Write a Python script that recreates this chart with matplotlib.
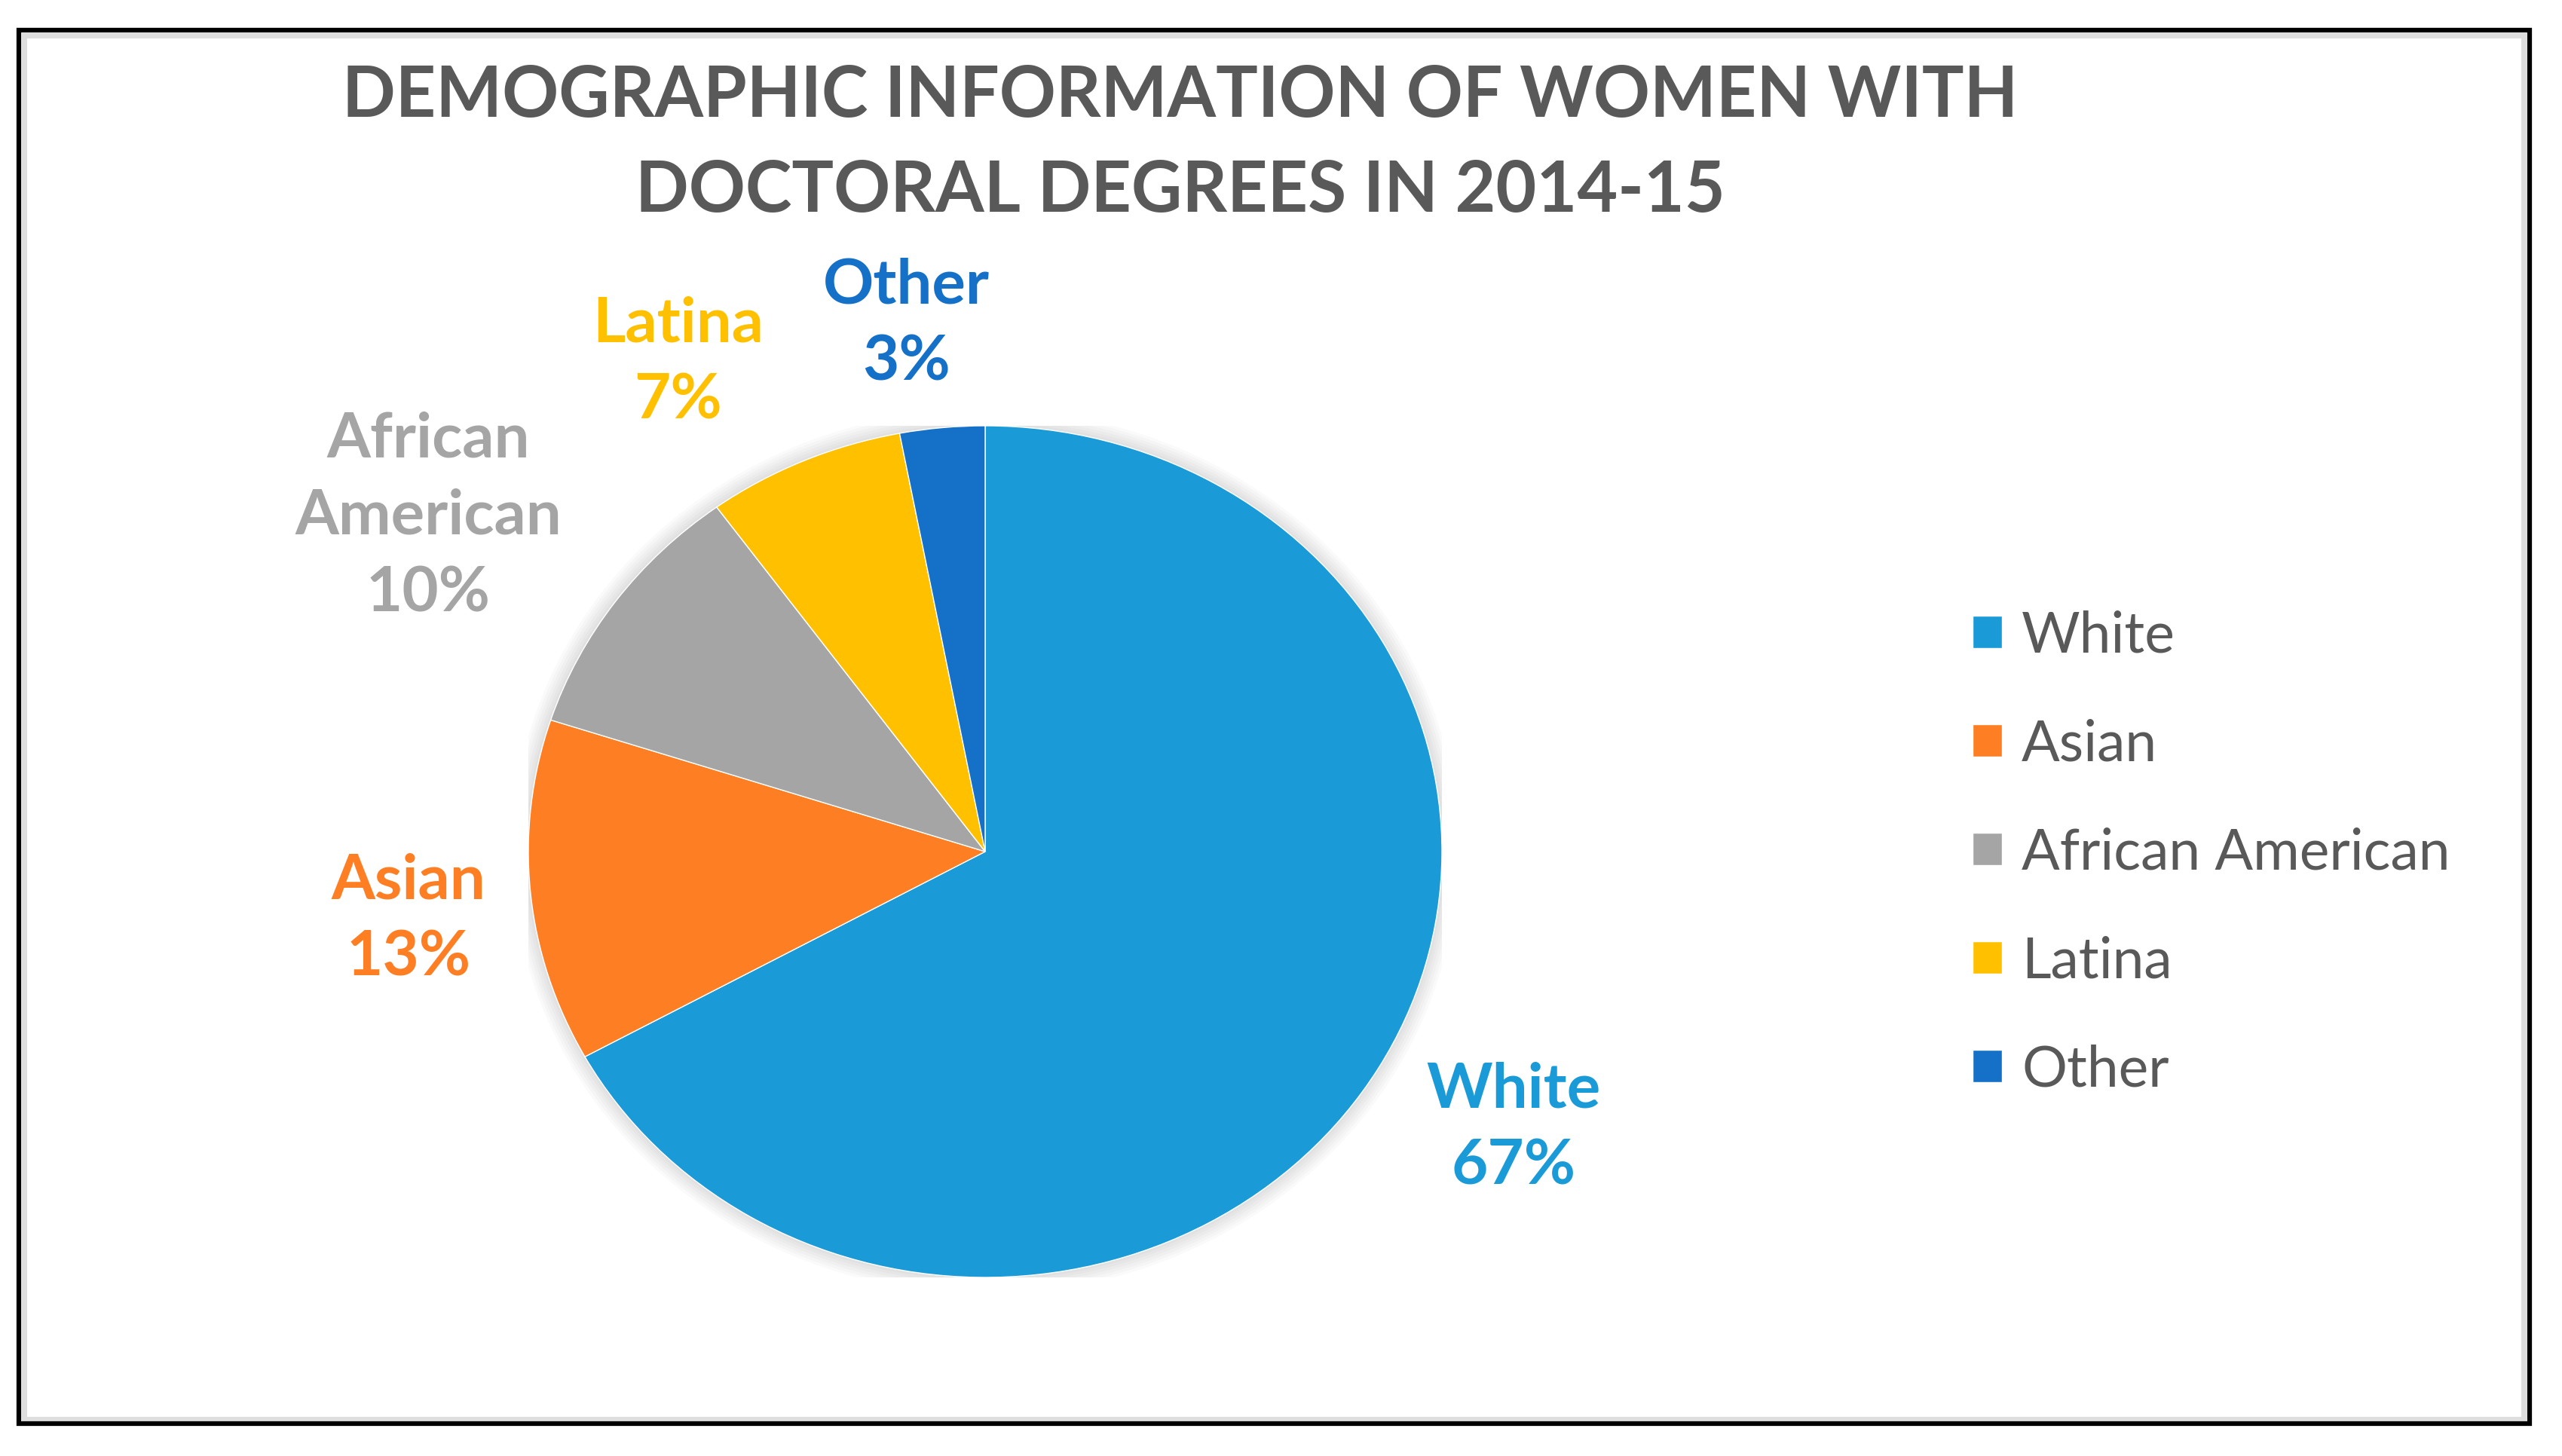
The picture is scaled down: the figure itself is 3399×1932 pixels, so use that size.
import matplotlib
matplotlib.use("Agg")
import matplotlib.pyplot as plt
from matplotlib.patches import Rectangle, Ellipse

plt.rcParams['font.family'] = ['Lato', 'DejaVu Sans']

# data
groups = ["White", "Asian", "African American", "Latina", "Other"]
shares = [67, 13, 10, 7, 3]
label_text = ["White", "Asian", "African\nAmerican", "Latina", "Other"]
colors = ["#1A9BD7", "#FD7E23", "#A5A5A5", "#FFC000", "#1570C8"]

# where the data labels sit (pie units, x and y radii = 1)
label_pos = [(1.157, -0.648), (-1.262, -0.158), (-1.219, 0.789),
             (-0.672, 1.150), (-0.172, 1.241)]

W, H = 3399, 1933
fig = plt.figure(figsize=(W / 100, H / 100), dpi=100)
fig.patch.set_facecolor("white")

# pie is a little wider than tall in the reference
cx, cy, rx, ry = 1307, 1131, 606, 565
ax = fig.add_axes([(cx - rx) / W, (H - cy - ry) / H, 2 * rx / W, 2 * ry / H])

# soft glow behind the pie
for k in range(6):
    ax.add_patch(Ellipse((0, 0), 2 + 0.012 * (k + 1), 2 + 0.013 * (k + 1),
                         facecolor="black", edgecolor="none", alpha=0.018,
                         zorder=0))

wedges, _ = ax.pie(shares, colors=colors, startangle=90, counterclock=False,
                   wedgeprops=dict(linewidth=1, edgecolor="white"))
ax.set_aspect("auto")
ax.set_xlim(-1, 1)
ax.set_ylim(-1, 1)
ax.axis("off")

for txt, val, col, (lx, ly) in zip(label_text, shares, colors, label_pos):
    ax.text(lx, ly, "{}\n{}%".format(txt, val), color=col, fontsize=60,
            fontweight="bold", ha="center", va="center", linespacing=1.45,
            clip_on=False)

# title
fig.text(1566 / W, 1 - 191 / H,
         "DEMOGRAPHIC INFORMATION OF WOMEN WITH\nDOCTORAL DEGREES IN 2014-15",
         ha="center", va="center", fontsize=67, fontweight="bold",
         color="#595959", linespacing=1.57)

# legend
leg = fig.legend(wedges, groups, loc="upper left",
                 bbox_to_anchor=(2617 / W, 1 - 810 / H), frameon=False,
                 fontsize=54, handlelength=0.52, handleheight=0.52,
                 handletextpad=0.35, labelspacing=1.0, borderpad=0,
                 borderaxespad=0)
for t in leg.get_texts():
    t.set_color("#595959")

# outer frame: light gray band inside a black box
fig.patches.append(Rectangle((32 / W, 1 - 1884 / H), (3348 - 32) / W,
                             (1884 - 48) / H, transform=fig.transFigure,
                             fill=False, edgecolor="#DEDEDE", linewidth=5))
fig.patches.append(Rectangle((25 / W, 1 - 1890 / H), (3356 - 25) / W,
                             (1890 - 41) / H, transform=fig.transFigure,
                             fill=False, edgecolor="black", linewidth=4.5))

fig.savefig("out.png", dpi=100, facecolor="white")
